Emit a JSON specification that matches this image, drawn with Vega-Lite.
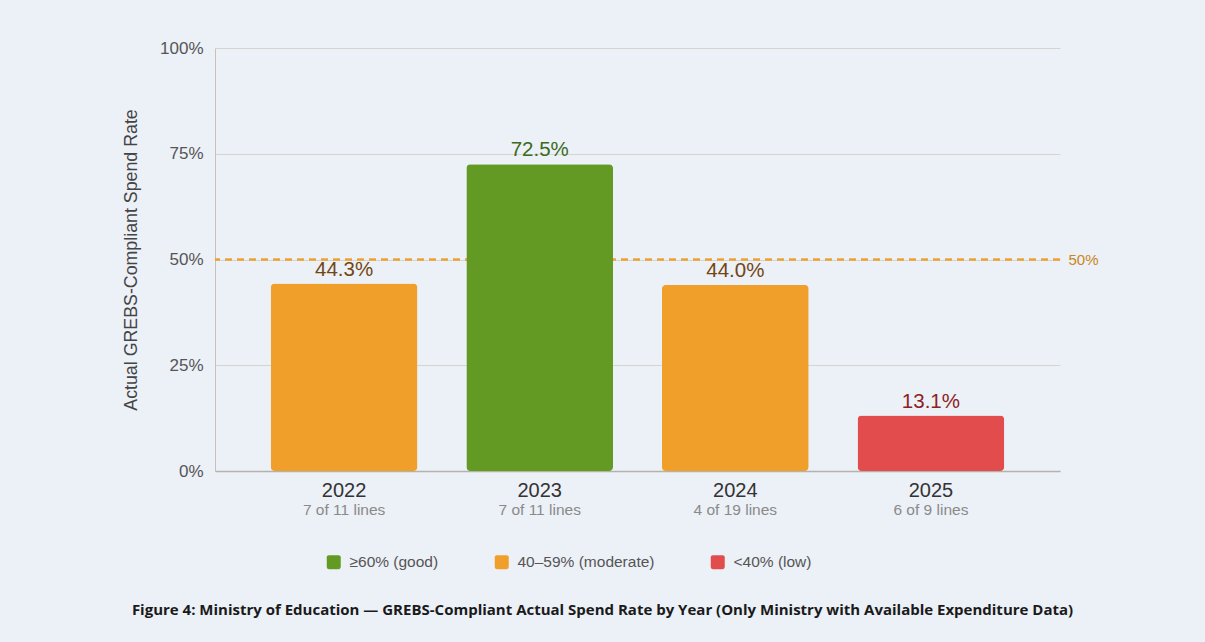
{
  "$schema": "https://vega.github.io/schema/vega-lite/v6.json",
  "width": 845,
  "height": 423,
  "autosize": {"type": "none"},
  "padding": {"left": 215, "top": 48, "right": 145, "bottom": 171},
  "background": "#ecf0f7",
  "config": {
    "font": "Liberation Sans",
    "view": {"stroke": null},
    "axis": {"labelFont": "Liberation Sans", "titleFont": "Liberation Sans"}
  },
  "title": {
    "text": "Figure 4: Ministry of Education — GREBS-Compliant Actual Spend Rate by Year (Only Ministry with Available Expenditure Data)",
    "orient": "bottom",
    "anchor": "middle",
    "font": "Open Sans",
    "fontSize": 15,
    "fontWeight": "bold",
    "color": "#1a1a1a",
    "offset": 32,
    "dx": -35
  },
  "data": {
    "values": [
      {"key": "2022|7 of 11 lines", "rate": 44.3, "label": "44.3%", "band": "40–59% (moderate)"},
      {"key": "2023|7 of 11 lines", "rate": 72.5, "label": "72.5%", "band": "≥60% (good)"},
      {"key": "2024|4 of 19 lines", "rate": 44.0, "label": "44.0%", "band": "40–59% (moderate)"},
      {"key": "2025|6 of 9 lines", "rate": 13.1, "label": "13.1%", "band": "<40% (low)"}
    ]
  },
  "layer": [
    {
      "mark": {"type": "rule", "color": "#f0a02a", "strokeDash": [7, 5], "strokeWidth": 1.5},
      "encoding": {
        "y": {
          "datum": 50,
          "type": "quantitative",
          "scale": {"domain": [0, 100]},
          "axis": {
            "orient": "right",
            "values": [50],
            "labelExpr": "datum.value + '%'",
            "labelColor": "#c98720",
            "labelFontSize": 15,
            "labelPadding": 8,
            "domain": false,
            "ticks": false,
            "grid": false,
            "title": null
          }
        }
      }
    },
    {
      "mark": {"type": "bar", "cornerRadius": 4},
      "encoding": {
        "x": {
          "field": "key",
          "type": "nominal",
          "sort": null,
          "scale": {"paddingInner": 0.25, "paddingOuter": 0.285},
          "axis": {
            "orient": "bottom",
            "title": null,
            "labelAngle": 0,
            "labelExpr": "split(datum.value, '|')[0]",
            "labelFontSize": 20,
            "labelColor": "#333333",
            "labelPadding": 9,
            "ticks": false,
            "grid": false,
            "domainColor": "#b5b2aa",
            "domainWidth": 1.5
          }
        },
        "y": {
          "field": "rate",
          "type": "quantitative",
          "scale": {"domain": [0, 100]},
          "axis": {
            "orient": "left",
            "values": [0, 25, 50, 75, 100],
            "labelExpr": "datum.value + '%'",
            "labelFontSize": 17,
            "labelColor": "#555555",
            "labelPadding": 12,
            "ticks": false,
            "grid": true,
            "domainColor": "#c4c2bb",
            "gridColor": "#d6d5cd",
            "title": "Actual GREBS-Compliant Spend Rate",
            "titleFontSize": 17.8,
            "titleFontWeight": "normal",
            "titleColor": "#444444",
            "titlePadding": 19
          }
        },
        "color": {
          "field": "band",
          "type": "nominal",
          "scale": {
            "domain": ["≥60% (good)", "40–59% (moderate)", "<40% (low)"],
            "range": ["#639a24", "#f0a02a", "#e34c4c"]
          },
          "legend": {
            "title": null,
            "orient": "none",
            "legendX": 111,
            "legendY": 506,
            "direction": "horizontal",
            "symbolType": "M -0.7 -1 H 0.7 Q 1 -1 1 -0.7 V 0.7 Q 1 1 0.7 1 H -0.7 Q -1 1 -1 0.7 V -0.7 Q -1 -1 -0.7 -1 Z",
            "symbolSize": 196,
            "symbolStrokeWidth": 0,
            "labelFontSize": 15.5,
            "labelColor": "#555555",
            "labelOffset": 8,
            "columnPadding": 55
          }
        }
      }
    },
    {
      "mark": {"type": "text", "baseline": "alphabetic", "dy": -8, "fontSize": 20.5},
      "encoding": {
        "x": {
          "field": "key",
          "type": "nominal",
          "sort": null,
          "axis": {
            "orient": "bottom",
            "title": null,
            "labelAngle": 0,
            "labelExpr": "split(datum.value, '|')[1]",
            "labelFontSize": 15.5,
            "labelColor": "#8a8a8a",
            "labelPadding": 31,
            "ticks": false,
            "grid": false,
            "domain": false
          }
        },
        "y": {"field": "rate", "type": "quantitative", "axis": null},
        "text": {"field": "label"},
        "color": {
          "field": "band",
          "type": "nominal",
          "scale": {
            "domain": ["≥60% (good)", "40–59% (moderate)", "<40% (low)"],
            "range": ["#3b6b1c", "#734611", "#8c2222"]
          },
          "legend": null
        }
      }
    }
  ],
  "resolve": {"axis": {"x": "independent", "y": "independent"}, "scale": {"color": "independent"}}
}
